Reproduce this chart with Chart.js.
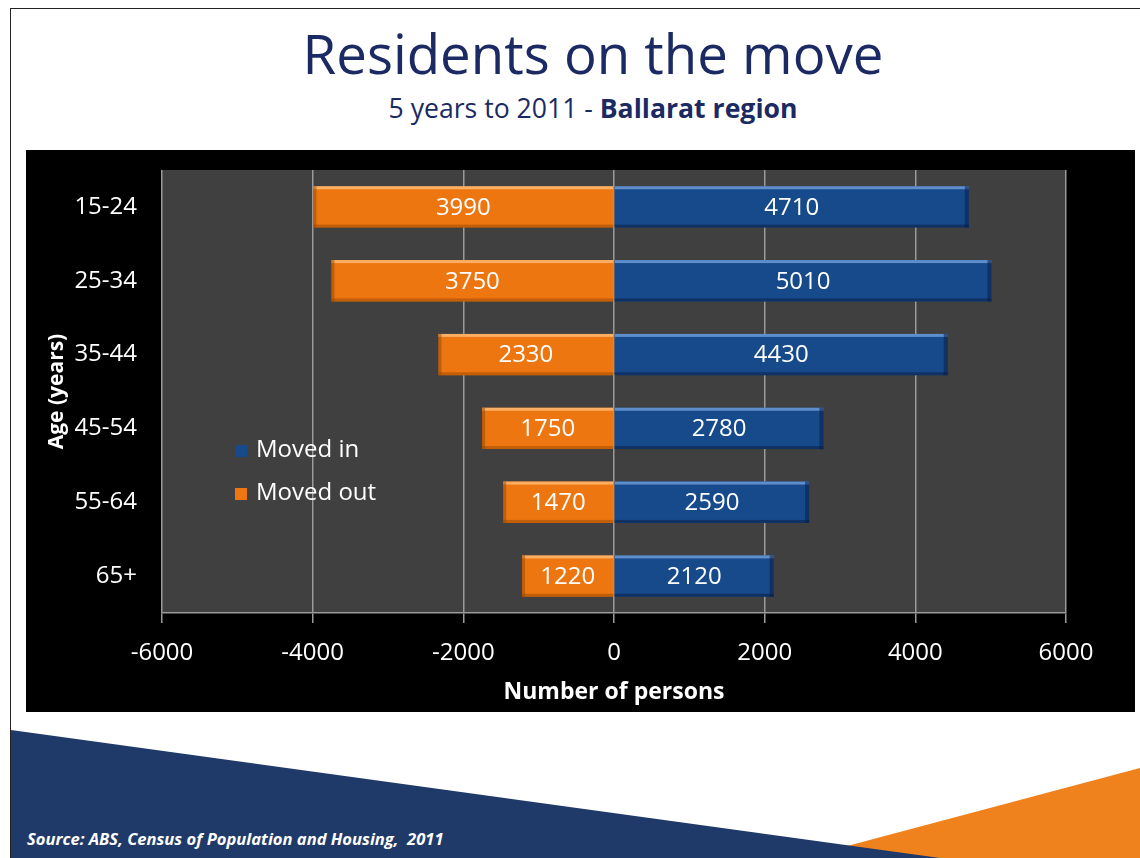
<!DOCTYPE html>
<html>
<head>
<meta charset="utf-8">
<script src="https://cdn.jsdelivr.net/npm/chart.js@4.4.1/dist/chart.umd.min.js"></script>
<style>
  html, body { margin:0; padding:0; }
  body { width:1140px; height:858px; overflow:hidden; position:relative; background:#fff; font-family:"Open Sans", sans-serif; }
  #frame { position:absolute; left:10px; top:8px; width:1140px; height:860px; border:1.5px solid #222; box-sizing:border-box; }
  #shapes { position:absolute; left:0; top:0; }
  #title { position:absolute; left:0; width:1186px; top:20px; text-align:center; color:#1b2a63; font-size:54px; line-height:66px; white-space:nowrap; }
  #subtitle { position:absolute; left:0; width:1186px; top:94px; text-align:center; color:#1b2a63; font-size:21px; line-height:28px; white-space:nowrap; }
  #subtitle b { font-weight:700; }
  #chartbox { position:absolute; left:26px; top:150px; width:1109px; height:562px; background:#000; }
  #source { position:absolute; left:27px; top:827px; color:#fff; font-size:14px; font-style:italic; font-weight:700; white-space:nowrap; }
</style>
</head>
<body>
<svg id="shapes" width="1140" height="858">
  <polygon points="802,858 1140,768 1140,858" fill="#f0821e"/>
  <polygon points="11,730 940,858 11,858" fill="#1f3a68"/>
</svg>
<div id="frame"></div>
<div id="title">Residents on the move</div>
<div id="subtitle">5 years to 2011 - <b>Ballarat region</b></div>
<div id="chartbox"><canvas id="c" width="1109" height="562"></canvas></div>
<div id="source">Source: ABS, Census of Population and Housing,&nbsp; 2011</div>
<script>
// ---- data ----
const categories = ['15-24', '25-34', '35-44', '45-54', '55-64', '65+'];
const movedIn  = [4710, 5010, 4430, 2780, 2590, 2120];
const movedOut = [3990, 3750, 2330, 1750, 1470, 1220];
const xTicks   = [-6000, -4000, -2000, 0, 2000, 4000, 6000];
const seriesNames = ['Moved in', 'Moved out'];

// fit title widths
function fit(id, target) {
  const el = document.getElementById(id);
  const r = document.createRange(); r.selectNodeContents(el);
  const w = r.getBoundingClientRect().width;
  const fs = parseFloat(getComputedStyle(el).fontSize);
  el.style.fontSize = (fs * target / w) + 'px';
}
fit('title', 581);
fit('subtitle', 409);
fit('source', 417);

const FONT = '"Open Sans", sans-serif';
const style = {
  in:  { fill:'#174a8b', hi:'rgba(120,165,225,0.75)', lo:'rgba(10,30,70,0.55)' },
  out: { fill:'#ee7611', hi:'rgba(255,190,120,0.8)', lo:'rgba(150,70,0,0.5)' }
};

const bgPlugin = {
  id:'bg',
  beforeDraw(chart) {
    const {ctx, chartArea:a} = chart;
    ctx.save();
    ctx.fillStyle = '#000';
    ctx.fillRect(0, 0, chart.width, chart.height);
    ctx.fillStyle = '#404040';
    ctx.fillRect(a.left, a.top, a.right - a.left, a.bottom - a.top);
    ctx.restore();
  }
};

const barPlugin = {
  id:'bars',
  afterDatasetsDraw(chart) {
    const ctx = chart.ctx;
    ctx.save();
    chart.data.datasets.forEach((ds, i) => {
      const st = i === 0 ? style.in : style.out;
      const meta = chart.getDatasetMeta(i);
      meta.data.forEach((bar, j) => {
        const {x, y, base, height} = bar.getProps(['x','y','base','height'], true);
        const l = Math.min(x, base), r = Math.max(x, base);
        const t = y - height / 2, b = y + height / 2;
        ctx.fillStyle = st.hi;
        ctx.fillRect(l, t, r - l, 3);
        ctx.fillStyle = st.lo;
        ctx.fillRect(l, b - 3, r - l, 3);
        if (x > base) ctx.fillRect(r - 4, t, 4, height); else ctx.fillRect(l, t, 3, height);
        ctx.fillStyle = '#fff';
        ctx.font = '24px ' + FONT;
        ctx.textAlign = 'center';
        ctx.textBaseline = 'middle';
        ctx.fillText(String(Math.abs(ds.data[j])), (l + r) / 2, y + 1);
      });
    });
    ctx.restore();
  }
};

const legendPlugin = {
  id:'customLegend',
  afterDraw(chart) {
    const ctx = chart.ctx;
    const a = chart.chartArea;
    ctx.save();
    ctx.font = '24px ' + FONT;
    ctx.textAlign = 'left';
    ctx.textBaseline = 'middle';
    chart.data.datasets.forEach((ds, i) => {
      const cy = a.top + 280 + i * 43;
      const sx = a.left + 73;
      ctx.fillStyle = ds.backgroundColor;
      ctx.fillRect(sx, cy - 5, 12, 12);
      ctx.fillStyle = '#fff';
      ctx.fillText(ds.label, sx + 21, cy);
    });
    ctx.restore();
  }
};

new Chart(document.getElementById('c'), {
  type:'bar',
  data:{
    labels:categories,
    datasets:[
      { label:seriesNames[0], data:movedIn, backgroundColor:style.in.fill, borderWidth:0 },
      { label:seriesNames[1], data:movedOut.map(v => -v), backgroundColor:style.out.fill, borderWidth:0 }
    ]
  },
  options:{
    indexAxis:'y',
    responsive:false,
    animation:false,
    layout:{ padding:{ top:20, right:69, left:0, bottom:0 } },
    plugins:{ legend:{ display:false }, tooltip:{ enabled:false } },
    datasets:{ bar:{ categoryPercentage:1, barPercentage:0.56 } },
    scales:{
      x:{
        stacked:true,
        min:-6000, max:6000,
        afterBuildTicks(scale){ scale.ticks = xTicks.map(v => ({ value:v })); },
        afterFit(scale){ scale.height = 99; scale.paddingLeft = 0; scale.paddingRight = 0; },
        grid:{ color:'#9a9a9a', lineWidth:1.5, tickLength:10, drawTicks:true, tickColor:'#9a9a9a' },
        border:{ display:true, color:'#9a9a9a', width:1.5 },
        ticks:{ color:'#fff', font:{ family:FONT, size:24 }, padding:16, maxRotation:0, autoSkip:false,
                callback:(v) => String(v) },
        title:{ display:true, text:'Number of persons', color:'#fff', font:{ family:FONT, size:23, weight:'bold' }, padding:{ top:0, bottom:6 } }
      },
      y:{
        stacked:true,
        afterFit(scale){ scale.width = 136; scale.paddingTop = 0; scale.paddingBottom = 0; },
        grid:{ display:false },
        border:{ display:false },
        ticks:{ color:'#fff', font:{ family:FONT, size:24 }, padding:17 },
        title:{ display:true, text:'Age (years)', color:'#fff', font:{ family:FONT, size:21, weight:'bold' }, padding:{ top:18, bottom:0 } }
      }
    }
  },
  plugins:[bgPlugin, barPlugin, legendPlugin]
});
</script>
</body>
</html>
